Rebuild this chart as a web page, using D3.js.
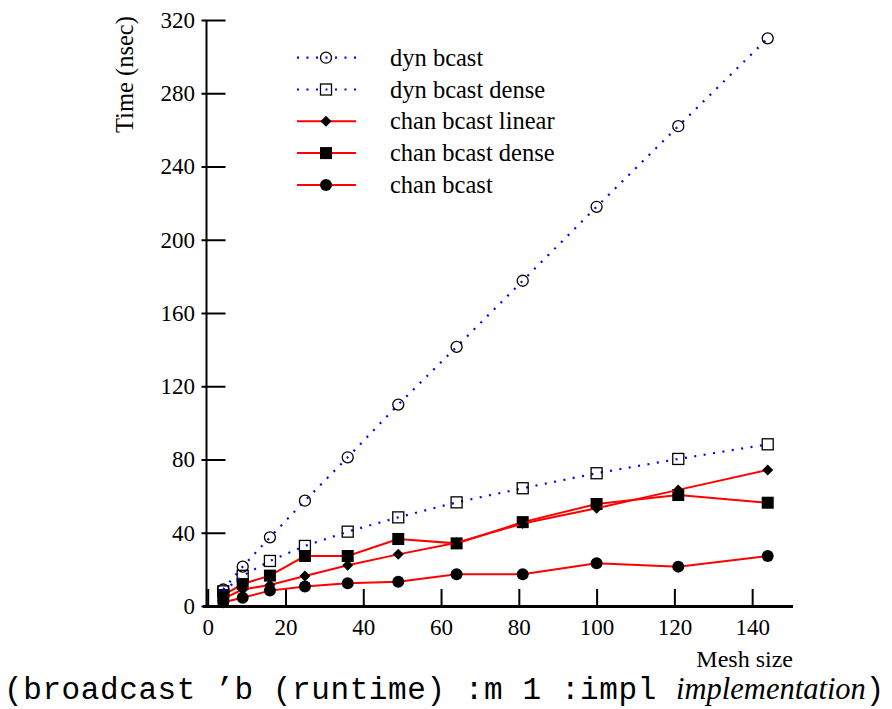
<!DOCTYPE html>
<html>
<head>
<meta charset="utf-8">
<script src="https://cdn.jsdelivr.net/npm/d3@7"></script>
<style>
  body { margin: 0; background: #fff; }
  svg { display: block; }
  text { font-family: "Liberation Serif", "Times New Roman", serif; fill: #000; }
</style>
</head>
<body>
<svg id="chart" width="892" height="709"></svg>
<script>
// mesh sizes (x) and timings in nsec
const meshSizes = [4, 9, 16, 25, 36, 49, 64, 81, 100, 121, 144];
const dynBcast = [9, 21.5, 37.5, 57.5, 81.2, 110, 141.5, 177.6, 218, 262, 310];
const dynBcastDense = [8, 16.5, 24.6, 32.8, 40.6, 48.4, 56.6, 64.3, 72.5, 80.3, 88.3];
const chanBcastLinear = [4, 9, 11.5, 16.4, 22.2, 28.2, 34.5, 45, 53.4, 63.4, 74.3];
const chanBcastDense = [6, 12, 16.6, 27.3, 27.3, 36.6, 34.2, 45.8, 55.7, 60.6, 56.4];
const chanBcast = [2, 4.5, 8.4, 10.6, 12.4, 13.3, 17.3, 17.3, 23.3, 21.5, 27.3];

const xTicks = [0, 20, 40, 60, 80, 100, 120, 140];
const yTicks = [0, 40, 80, 120, 160, 200, 240, 280, 320];

// legend order, top to bottom
const series = [
  { name: 'dyn bcast', values: dynBcast, kind: 'dyn', marker: 'circleOpen' },
  { name: 'dyn bcast dense', values: dynBcastDense, kind: 'dyn', marker: 'squareOpen' },
  { name: 'chan bcast linear', values: chanBcastLinear, kind: 'chan', marker: 'diamond' },
  { name: 'chan bcast dense', values: chanBcastDense, kind: 'chan', marker: 'square' },
  { name: 'chan bcast', values: chanBcast, kind: 'chan', marker: 'circle' }
];

const svg = d3.select('#chart');

let x = d3.scaleLinear().domain([0, 150.5]).range([207.7, 793]);
let y = d3.scaleLinear().domain([0, 320]).range([606, 20]);

// axis lines drawn by hand so they can run a bit past the scale ends
svg.append('line')
  .attr('x1', 206.5).attr('x2', 206.5)
  .attr('y1', y(320)).attr('y2', 607)
  .attr('stroke', '#000').attr('stroke-width', 2);
svg.append('line')
  .attr('x1', 203).attr('x2', 793)
  .attr('y1', 606.5).attr('y2', 606.5)
  .attr('stroke', '#000').attr('stroke-width', 3);

// x axis, ticks pointing up into the plot
let gx = svg.append('g')
  .attr('transform', 'translate(0,606)')
  .call(d3.axisBottom(x).tickValues(xTicks).tickSizeInner(-17).tickSizeOuter(0).tickPadding(13));
gx.select('.domain').remove();
gx.selectAll('.tick line').attr('stroke-width', 2);
gx.selectAll('text')
  .attr('font-family', '"Liberation Serif", serif')
  .attr('font-size', 23);

// y axis, ticks cross the axis line
let gy = svg.append('g')
  .attr('transform', 'translate(206.5,0)')
  .call(d3.axisLeft(y).tickValues(yTicks).tickSizeInner(5).tickSizeOuter(0).tickPadding(6.5));
gy.select('.domain').remove();
gy.selectAll('.tick line').attr('x1', 19).attr('stroke-width', 2);
gy.selectAll('text')
  .attr('font-family', '"Liberation Serif", serif')
  .attr('font-size', 23);

// axis titles
svg.append('text')
  .attr('transform', 'translate(133,133) rotate(-90)')
  .attr('font-size', 24.5)
  .text('Time (nsec)');
svg.append('text')
  .attr('x', 793).attr('y', 667)
  .attr('text-anchor', 'end')
  .attr('font-size', 24)
  .text('Mesh size');

function lineStyle(sel, kind) {
  if (kind === 'dyn')
    sel.attr('stroke', '#0000ff').attr('stroke-width', 2.2)
      .attr('stroke-dasharray', '2,7.5').attr('stroke-linecap', 'butt');
  else
    sel.attr('stroke', '#ff0000').attr('stroke-width', 2);
  sel.attr('fill', 'none');
}

function drawMarker(g, type, cx, cy) {
  if (type === 'circleOpen')
    g.append('circle').attr('cx', cx).attr('cy', cy).attr('r', 5.5)
      .attr('fill', 'none').attr('stroke', '#000').attr('stroke-width', 1.3);
  else if (type === 'squareOpen')
    g.append('rect').attr('x', cx - 5.5).attr('y', cy - 5.5).attr('width', 11).attr('height', 11)
      .attr('fill', 'none').attr('stroke', '#000').attr('stroke-width', 1.3);
  else if (type === 'square')
    g.append('rect').attr('x', cx - 6).attr('y', cy - 6).attr('width', 12).attr('height', 12)
      .attr('fill', '#000');
  else if (type === 'circle')
    g.append('circle').attr('cx', cx).attr('cy', cy).attr('r', 6).attr('fill', '#000');
  else if (type === 'diamond')
    g.append('path').attr('d', `M${cx} ${cy - 5.5} L${cx + 5.5} ${cy} L${cx} ${cy + 5.5} L${cx - 5.5} ${cy} Z`)
      .attr('fill', '#000');
}

let line = d3.line()
  .x(function(d) { return x(d[0]); })
  .y(function(d) { return y(d[1]); });

// draw series bottom-up so the dyn lines sit on top like in the original
let plot = svg.append('g').attr('class', 'series');
series.slice().reverse().forEach(function(s) {
  let pts = meshSizes.map(function(m, i) { return [m, s.values[i]]; });
  let g = plot.append('g');
  g.append('path').attr('d', line(pts)).call(lineStyle, s.kind);
  pts.forEach(function(p) { drawMarker(g, s.marker, x(p[0]), y(p[1])); });
});

// legend
let legend = svg.append('g').attr('class', 'legend');
series.forEach(function(s, i) {
  let ly = 57.7 + i * 31.8;
  let g = legend.append('g');
  g.append('line').attr('x1', 297).attr('x2', 356).attr('y1', ly).attr('y2', ly).call(lineStyle, s.kind);
  drawMarker(g, s.marker, 326, ly);
  g.append('text').attr('x', 390).attr('y', ly).attr('dy', '0.33em')
    .attr('font-size', 24.5).text(s.name);
});

// caption under the chart (kept just inside the bottom edge)
let cap = svg.append('text')
  .attr('x', 4).attr('y', 699)
  .attr('xml:space', 'preserve')
  .style('white-space', 'pre');
cap.append('tspan')
  .attr('font-family', '"Liberation Mono", monospace').attr('font-size', 31)
  .attr('letter-spacing', 0.6)
  .text('(broadcast \u2019b (runtime) :m 1 :impl ');
cap.append('tspan')
  .attr('font-family', '"Liberation Serif", serif').attr('font-style', 'italic').attr('font-size', 30.5)
  .attr('letter-spacing', 0)
  .text('implementation');
cap.append('tspan')
  .attr('font-family', '"Liberation Mono", monospace').attr('font-size', 31)
  .text(')');
</script>
</body>
</html>
